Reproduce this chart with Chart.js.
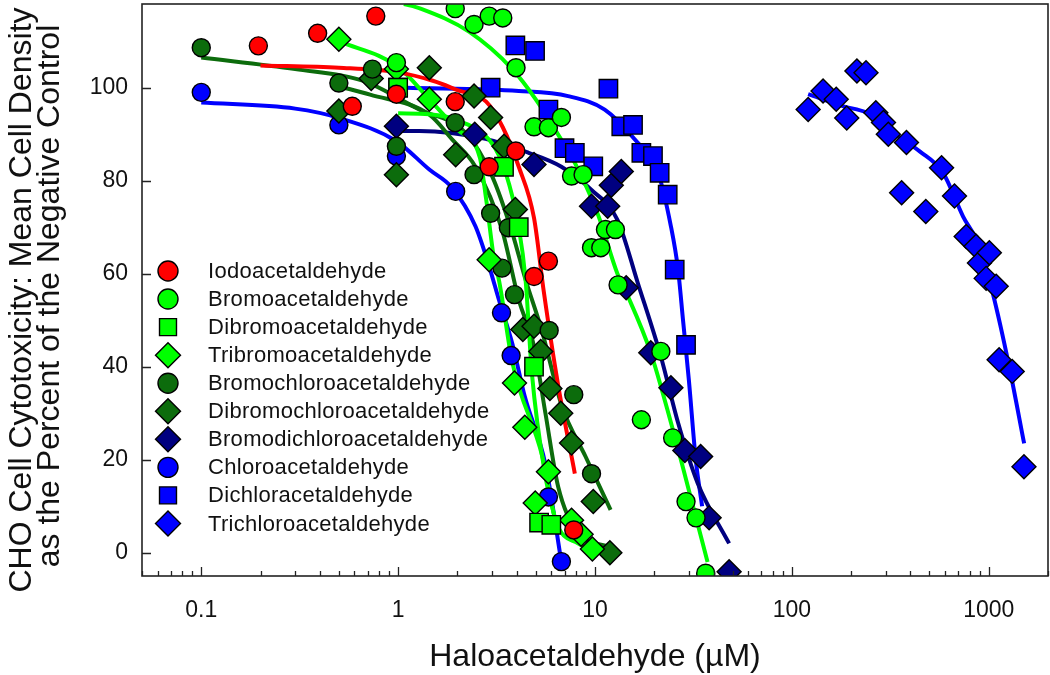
<!DOCTYPE html>
<html>
<head>
<meta charset="utf-8">
<title>Haloacetaldehyde CHO cytotoxicity</title>
<script src="https://cdn.jsdelivr.net/npm/chart.js@4.4.1/dist/chart.umd.min.js"></script>
<style>
  html, body { margin: 0; padding: 0; background: #fff; }
  #wrap { width: 1050px; height: 675px; }
</style>
</head>
<body>
<div id="wrap"><canvas id="chart"></canvas></div>
<script>
// ---- data ----
const seriesNames = [
  'Iodoacetaldehyde', 'Bromoacetaldehyde', 'Dibromoacetaldehyde', 'Tribromoacetaldehyde',
  'Bromochloroacetaldehyde', 'Dibromochloroacetaldehyde', 'Bromodichloroacetaldehyde',
  'Chloroacetaldehyde', 'Dichloracetaldehyde', 'Trichloroacetaldehyde'
];
const yTitleLines = ['CHO Cell Cytotoxicity: Mean Cell Density', 'as the Percent of the Negative Control'];

// measured points
const iodoX = [0.195, 0.39, 0.585, 0.77, 0.98, 1.95, 2.9, 3.96, 4.9, 5.8, 7.8];
const iodoY = [109, 111.7, 96, 115.4, 98.6, 97, 83, 86.4, 59.4, 62.7, 4.9];
const bromoX = [0.98, 1.95, 2.43, 2.9, 3.4, 3.97, 4.9, 5.8, 6.75, 7.6, 8.7, 9.6, 10.7, 11.3, 12.7, 13.1, 17.2, 21.6, 24.8, 29, 32.6, 36.5];
const bromoY = [105.4, 117, 113.6, 115.4, 115, 104.3, 91.6, 91.4, 93.6, 81, 81.3, 65.6, 65.6, 69.5, 69.5, 57.6, 28.6, 43.3, 24.7, 11, 7.5, -4.4];
const dibromoX = [1, 3.45, 4.1, 4.9, 5.2, 6];
const dibromoY = [100, 83, 70, 40, 6.5, 6];
const tribromoX = [0.5, 0.98, 1.44, 2.9, 3.9, 4.4, 4.97, 5.8, 7.6, 8.5, 9.7];
const tribromoY = [110.4, 104, 97.5, 63, 36.5, 27, 10.7, 17.4, 7, 4, 0.8];
const bromochloroX = [0.1, 0.5, 0.74, 0.98, 1.95, 2.43, 2.95, 3.37, 3.63, 3.9, 5.85, 7.8, 9.6];
const bromochloroY = [108.6, 101, 104, 87.4, 92.5, 81.3, 73, 61.2, 69.9, 55.5, 47.8, 34, 17];
const dibromochloroX = [0.5, 0.73, 0.98, 1.44, 1.96, 2.43, 2.95, 3.45, 3.94, 4.3, 4.9, 5.3, 5.9, 6.7, 7.6, 9.8, 11.9];
const dibromochloroY = [95, 102, 81.3, 104.3, 85.6, 98.2, 93.6, 87.4, 73.8, 48, 48.7, 43.3, 35.3, 30, 23.6, 11, 0];
const bromodichloroX = [0.98, 2.45, 4.9, 9.6, 11.6, 12.1, 13.6, 14.4, 19.2, 24.3, 28.6, 34.4, 38, 48];
const bromodichloroY = [91.7, 90, 83.5, 74.5, 74.5, 79, 82, 57, 43, 35.5, 22, 20.7, 7.5, -4.1];
const chloroX = [0.1, 0.5, 0.98, 1.96, 3.35, 3.75, 5.8, 6.75];
const chloroY = [99, 92, 85.3, 77.7, 51.6, 42.4, 12, -1.9];
const dichloroX = [1, 2.95, 3.94, 4.96, 5.8, 7, 7.9, 9.8, 11.7, 13.6, 15.6, 17.2, 19.7, 21.3, 23.4, 25.4, 29];
const dichloroY = [100, 100, 109.1, 107.9, 95.3, 87, 86, 83.1, 99.8, 91.7, 92, 86, 85.3, 81.7, 77, 60.9, 44.7];
const trichloroX = [121, 144, 168, 190, 214, 238, 267, 292, 309, 361, 382, 479, 576, 670, 768, 862, 897, 970, 1007, 1091, 1129, 1316, 1510];
const trichloroY = [95.3, 99.3, 97.5, 93.5, 103.6, 103.2, 94.6, 92.5, 90, 77.4, 88.2, 73.4, 82.8, 76.7, 68, 65.9, 62.3, 59, 64.5, 57.3, 41.5, 39, 18.5];

// fitted curves
const iodoFitX = [0.2, 0.5, 1, 1.5, 2, 2.8, 3.4, 4.1, 4.9, 5.5, 6.5, 7.9];
const iodoFitY = [104.8, 104.3, 103.3, 101.5, 99.5, 97, 91.5, 83, 72, 56, 36, 17];
const bromoFitX = [1.07, 1.3, 2.3, 3.8, 5, 6.7, 8.2, 10.4, 13, 14.4, 19.2, 24.3, 30.6, 37.3];
const bromoFitY = [118, 117, 112, 104, 97.5, 89, 82.5, 72.5, 60, 56, 43, 28, 12, -2];
const dibromoFitX = [1, 1.44, 2, 3, 3.5, 4.1, 4.44, 4.78, 5.6, 6.3];
const dibromoFitY = [94.5, 94.3, 93, 88, 82, 70, 58.7, 38.6, 16.4, 7];
const tribromoFitX = [0.5, 1, 1.44, 2, 2.6, 2.8, 3.1, 3.25, 3.8, 5.4, 6.3, 8.2, 11.7];
const tribromoFitY = [110, 104.5, 97.5, 91, 85, 76, 62, 58.7, 41, 20.7, 7, 2, -0.5];
const bromochloroFitX = [0.1, 0.3, 0.66, 1.28, 2.2, 3, 3.8, 4.44, 5.35, 6.8, 8.95, 12];
const bromochloroFitY = [106.5, 104, 101.5, 95.3, 90.3, 81, 68.8, 58.7, 48, 31.4, 20.7, 9.2];
const dibromochloroFitX = [0.5, 0.72, 1.44, 1.88, 2.47, 3.37, 4.1, 4.9, 5.6, 6.5, 8.2, 11.7];
const dibromochloroFitY = [100.3, 98.5, 94.2, 88.9, 83, 69.5, 54.4, 44.4, 30, 14.2, 4.2, 1.3];
const bromodichloroFitX = [0.98, 1.28, 2.78, 4.6, 6.75, 9.6, 13, 16.5, 21.6, 26.4, 33.2, 48];
const bromodichloroFitY = [90.7, 90.7, 89, 86, 83, 78, 71.6, 58, 42.2, 28, 15, 2];
const chloroFitX = [0.1, 0.3, 0.5, 0.98, 1.44, 1.88, 2.47, 2.9, 3.25, 3.8, 4.4, 5.6, 6.75];
const chloroFitY = [96.8, 95.5, 93.5, 88.5, 82.4, 78.5, 70.2, 61.6, 54.4, 45, 33.6, 19, -2];
const dichloroFitX = [1.1, 4.1, 7.3, 11.2, 15.9, 20.9, 24.3, 26.4, 28, 30, 32.5, 35];
const dichloroFitY = [100, 99.3, 98.2, 95.3, 88.9, 81.7, 70.2, 61, 50, 37, 20, 10];
const trichloroFitX = [121, 183, 240, 327, 446, 586, 741, 897, 1047, 1271, 1513];
const trichloroFitY = [98.6, 96, 94.6, 90.3, 86.3, 81.7, 72.3, 65.9, 55.9, 40, 23.5];

// axes
const xMajorTicks = [0.1, 1, 10, 100, 1000];
const yTicks = [0, 20, 40, 60, 80, 100];

// ---- styling ----
const FONT = '"Liberation Sans", Arial, Helvetica, sans-serif';
const markerStyles = ['circle', 'circle', 'rect', 'rectRot', 'circle', 'rectRot', 'rectRot', 'circle', 'rect', 'rectRot'];
const markerColors = ['#ff0000', '#00ff00', '#00ff00', '#00ff00', '#0c6c0c', '#0c6c0c', '#000080', '#0000ff', '#0000ff', '#0000ff'];
const lineColors = ['#ff0000', '#00ff00', '#00ff00', '#00ff00', '#0c6c0c', '#0c6c0c', '#000080', '#0000ff', '#0000ff', '#0000ff'];
const sizeFor = { circle: 9, rect: 13, rectRot: 12 };

const pointsX = [iodoX, bromoX, dibromoX, tribromoX, bromochloroX, dibromochloroX, bromodichloroX, chloroX, dichloroX, trichloroX];
const pointsY = [iodoY, bromoY, dibromoY, tribromoY, bromochloroY, dibromochloroY, bromodichloroY, chloroY, dichloroY, trichloroY];
const fitsX = [iodoFitX, bromoFitX, dibromoFitX, tribromoFitX, bromochloroFitX, dibromochloroFitX, bromodichloroFitX, chloroFitX, dichloroFitX, trichloroFitX];
const fitsY = [iodoFitY, bromoFitY, dibromoFitY, tribromoFitY, bromochloroFitY, dibromochloroFitY, bromodichloroFitY, chloroFitY, dichloroFitY, trichloroFitY];

function zip(xs, ys) {
  return xs.map((x, i) => ({ x: x, y: ys[i] }));
}

const datasets = [];
seriesNames.forEach((name, i) => {
  datasets.push({
    label: name,
    data: zip(pointsX[i], pointsY[i]),
    showLine: false,
    pointStyle: markerStyles[i],
    pointRadius: sizeFor[markerStyles[i]],
    pointBackgroundColor: markerColors[i],
    pointBorderColor: '#000',
    pointBorderWidth: 1.4,
    order: 0
  });
});
seriesNames.forEach((name, i) => {
  datasets.push({
    label: name + ' fit',
    data: zip(fitsX[i], fitsY[i]),
    showLine: true,
    borderColor: lineColors[i],
    borderWidth: 4,
    pointRadius: 0,
    cubicInterpolationMode: 'monotone',
    order: 1
  });
});

// 1..9 of each decade inside the range
function logTicks(min, max) {
  const out = [];
  for (let e = -2; e <= 3; e++) {
    for (let m = 1; m <= 9; m++) {
      const v = m * Math.pow(10, e);
      if (v >= min && v <= max) out.push(v);
    }
  }
  return out;
}

function drawMarker(ctx, style, x, y, r, fill) {
  ctx.save();
  ctx.fillStyle = fill;
  ctx.strokeStyle = '#000';
  ctx.lineWidth = 1.4;
  if (Chart.helpers && Chart.helpers.drawPoint) {
    Chart.helpers.drawPoint(ctx, { pointStyle: style, radius: r, rotation: 0, borderWidth: 1.4 }, x, y);
  } else {
    ctx.beginPath();
    ctx.arc(x, y, r, 0, Math.PI * 2);
    ctx.fill();
    ctx.stroke();
  }
  ctx.restore();
}

// frame + inward tick marks
const framePlugin = {
  id: 'frame',
  afterDatasetsDraw(chart) {
    const { ctx, chartArea: a, scales } = chart;
    ctx.save();
    ctx.strokeStyle = '#222';
    ctx.lineWidth = 1.6;
    ctx.strokeRect(a.left, a.top, a.right - a.left, a.bottom - a.top);
    ctx.lineWidth = 1.3;
    ctx.beginPath();
    yTicks.forEach(v => {
      const py = Math.round(scales.y.getPixelForValue(v)) + 0.5;
      ctx.moveTo(a.left, py);
      ctx.lineTo(a.left + 9, py);
    });
    scales.x.ticks.forEach(t => {
      const px = Math.round(scales.x.getPixelForValue(t.value)) + 0.5;
      const len = xMajorTicks.includes(t.value) ? 9 : 5;
      ctx.moveTo(px, a.bottom);
      ctx.lineTo(px, a.bottom - len);
    });
    ctx.stroke();
    ctx.restore();
  }
};

// two-line rotated y title, sitting a little below the plot centre like the original
const yTitlePlugin = {
  id: 'yTitle',
  afterDraw(chart) {
    const ctx = chart.ctx;
    ctx.save();
    ctx.font = '32px ' + FONT;
    ctx.fillStyle = '#111';
    ctx.textAlign = 'center';
    ctx.textBaseline = 'middle';
    ctx.translate(0, 0);
    [[22, 300], [50, 296]].forEach(([x, y], i) => {
      ctx.save();
      ctx.translate(x, y);
      ctx.rotate(-Math.PI / 2);
      ctx.fillText(yTitleLines[i], 0, 0);
      ctx.restore();
    });
    ctx.restore();
  }
};

// legend drawn inside the plot, lower left
const legendPlugin = {
  id: 'insideLegend',
  afterDraw(chart) {
    const ctx = chart.ctx;
    const x0 = 168, y0 = 271, step = 28.05, textX = 208;
    ctx.save();
    ctx.font = '22px ' + FONT;
    if ('letterSpacing' in ctx) ctx.letterSpacing = '0.3px';
    ctx.textBaseline = 'middle';
    seriesNames.forEach((name, i) => {
      const y = y0 + i * step;
      const st = markerStyles[i];
      const r = st === 'circle' ? 10 : (st === 'rect' ? 12 : 12.5);
      drawMarker(ctx, st, x0, y, r, markerColors[i]);
      ctx.fillStyle = '#111';
      ctx.fillText(name, textX, y + 1);
    });
    ctx.restore();
  }
};

new Chart(document.getElementById('chart'), {
  type: 'scatter',
  data: { datasets: datasets },
  options: {
    responsive: true,
    maintainAspectRatio: false,
    animation: false,
    devicePixelRatio: 1,
    layout: { autoPadding: false, padding: { top: 4, right: 2, left: 0, bottom: 0 } },
    plugins: { legend: { display: false }, tooltip: { enabled: false } },
    scales: {
      x: {
        type: 'logarithmic',
        min: 0.05,
        max: 2000,
        afterBuildTicks(scale) {
          scale.ticks = logTicks(0.05, 2000).map(v => ({ value: v }));
        },
        afterFit(scale) {
          scale.height = 99;
          scale.paddingLeft = 0;
          scale.paddingRight = 0;
        },
        grid: { display: false, drawTicks: false },
        border: { display: false },
        ticks: {
          autoSkip: false,
          maxRotation: 0,
          padding: 21,
          color: '#111',
          font: { family: FONT, size: 23 },
          callback(value) {
            return xMajorTicks.includes(value) ? String(value) : '';
          }
        },
        title: {
          display: true,
          text: 'Haloacetaldehyde (\u00b5M)',
          color: '#111',
          font: { family: FONT, size: 32, lineHeight: 1 },
          padding: { top: 0, bottom: 2 }
        }
      },
      y: {
        type: 'linear',
        min: -5,
        max: 118,
        afterBuildTicks(scale) {
          scale.ticks = yTicks.map(v => ({ value: v }));
        },
        afterFit(scale) {
          scale.width = 142;
          scale.paddingTop = 0;
          scale.paddingBottom = 0;
        },
        grid: { display: false, drawTicks: false },
        border: { display: false },
        ticks: {
          padding: 14,
          color: '#111',
          font: { family: FONT, size: 23 }
        },
        title: { display: false }
      }
    }
  },
  plugins: [framePlugin, yTitlePlugin, legendPlugin]
});
</script>
</body>
</html>
